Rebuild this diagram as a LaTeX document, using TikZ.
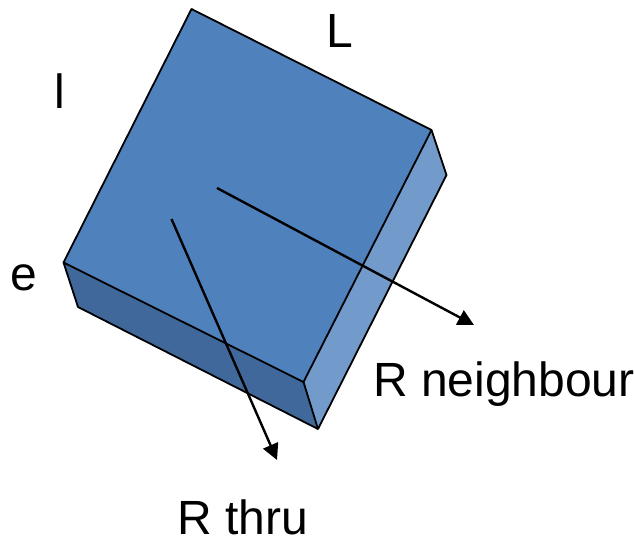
\documentclass[tikz,border=0pt]{standalone}
\usepackage{fontspec}
\setmainfont{Liberation Sans}
\usetikzlibrary{arrows.meta}
\definecolor{faceTop}{HTML}{4F81BD}
\definecolor{faceSide}{HTML}{729ACA}
\definecolor{faceFront}{HTML}{41689A}
\begin{document}
\begin{tikzpicture}[x=1pt,y=-1pt,
  face/.style={draw=black,line width=1.8pt,line join=round},
  lab/.style={font=\fontsize{48}{52}\selectfont,text=black,inner sep=0pt,anchor=base west},
  ray/.style={draw=black,line width=2.4pt,-{Triangle[length=16pt,width=16pt]}}]
\useasboundingbox (0,0) rectangle (634,538);
\coordinate (A) at (191.5,9);
\coordinate (B) at (431.5,130);
\coordinate (C) at (303.5,382);
\coordinate (D) at (63.5,262.5);
\coordinate (B2) at (446.5,175);
\coordinate (C2) at (318,429);
\coordinate (D2) at (78,307);
\fill[faceFront] (D) -- (C) -- (C2) -- (D2) -- cycle;
\fill[faceSide] (B) -- (B2) -- (C2) -- (C) -- cycle;
\fill[faceTop] (A) -- (B) -- (C) -- (D) -- cycle;
\draw[face] (A) -- (B) -- (B2) -- (C2) -- (D2) -- (D) -- cycle;
\draw[face] (D) -- (C) -- (B);
\draw[face] (C) -- (C2);
\coordinate (r1) at (217,188);
\coordinate (r2) at (474,325);
\coordinate (t1) at (171.5,219);
\coordinate (t2) at (277,460);
\draw[ray] (r1) -- (r2);
\draw[ray] (t1) -- (t2);
\node[lab] (nL) at (326.5,47) {L};
\node[lab] (nl) at (54.5,108) {l};
\node[lab] (ne) at (10,290) {e};
\node[lab] (nn) at (373,396) {R neighbour};
\node[lab] (nt) at (177,534) {R thru};
\end{tikzpicture}
\end{document}
